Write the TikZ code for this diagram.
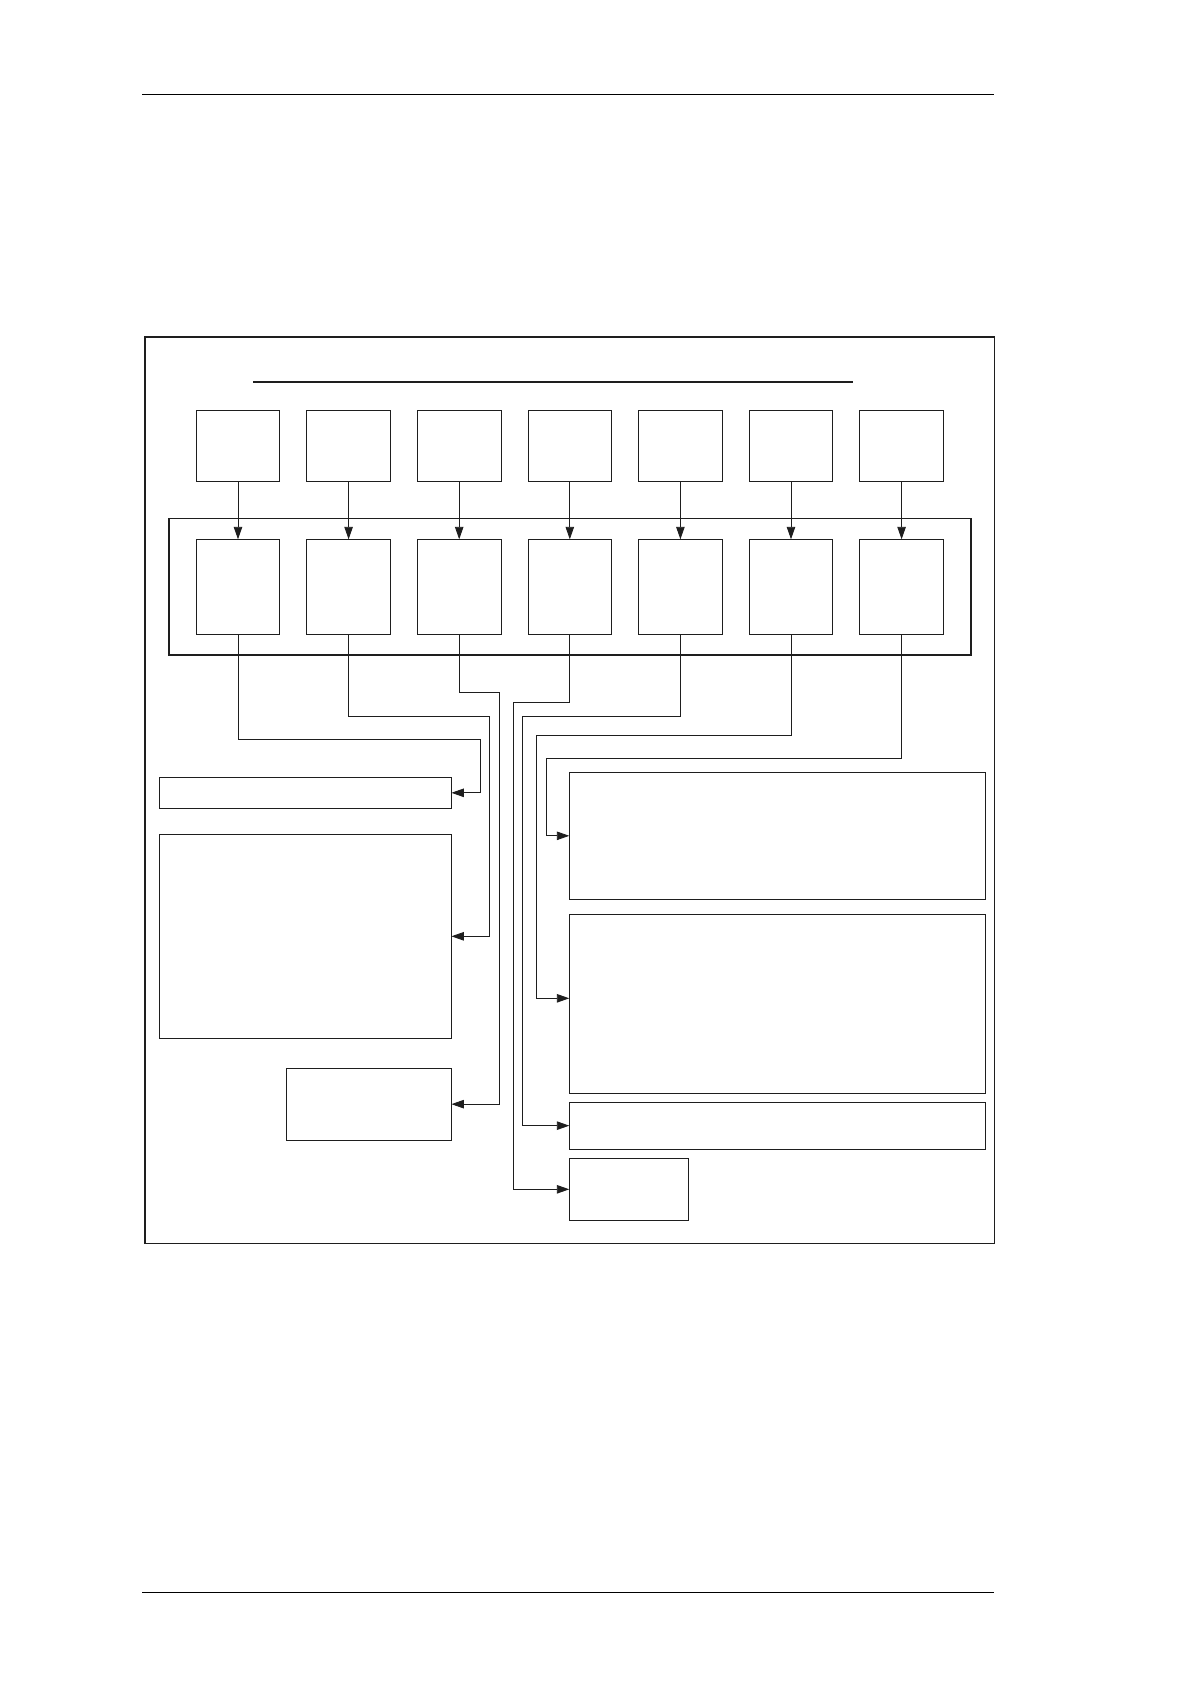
\documentclass[tikz,border=0pt]{standalone}
\usetikzlibrary{arrows.meta}
\definecolor{ink}{HTML}{1E1E1E}
\begin{document}
\begin{tikzpicture}[x=1pt,y=-1pt,
  box/.style={draw=ink, line width=0.9pt, inner sep=0pt, outer sep=0pt},
  framebox/.style={draw=ink, line width=1.6pt, inner sep=0pt, outer sep=0pt},
  conn/.style={draw=ink, line width=0.9pt},
  arr/.style={conn, -{Triangle[length=12.5pt,width=8.5pt]}},
  rulebar/.style={draw=black, line width=1.3pt}]
\useasboundingbox (0,0) rectangle (1190,1684);
% page rules
\draw[rulebar] (142,94.6) -- (994,94.6);
\draw[rulebar] (142,1592.3) -- (994,1592.3);
% outer frame
\node[framebox, minimum width=849.6pt, minimum height=906.6pt] (outer) at (569.5,790) {};
% title rule
\draw[draw=ink, line width=1.8pt] (253.3,381.7) -- (853.3,381.7);
% inner frame
\node[framebox, minimum width=802pt, minimum height=136.4pt] (inner) at (569.7,586.5) {};
% top and lower boxes
\foreach \i in {1,...,7}{
  \node[box, minimum width=83.5pt, minimum height=71pt] (b\i) at ({238+110.6*(\i-1)},445.8) {};
  \node[box, minimum width=83.5pt, minimum height=95pt] (l\i) at ({238+110.6*(\i-1)},586.8) {};
  \draw[arr] (b\i.south) -- (l\i.north);
}
% left boxes
\node[box, minimum width=292pt, minimum height=31pt] (A) at (305.4,792.8) {};
\node[box, minimum width=292pt, minimum height=204pt] (B) at (305.4,936.3) {};
\node[box, minimum width=165.3pt, minimum height=71.7pt] (C) at (368.75,1104.15) {};
% right boxes
\node[box, minimum width=416pt, minimum height=127pt] (R1) at (777.3,835.8) {};
\node[box, minimum width=416pt, minimum height=179pt] (R2) at (777.3,1003.5) {};
\node[box, minimum width=416pt, minimum height=46.7pt] (R3) at (777.3,1125.65) {};
\node[box, minimum width=119pt, minimum height=62pt] (R4) at (628.8,1189.3) {};
% bend points
\coordinate (k1) at (480.7,739);
\coordinate (k2) at (489.3,716.3);
\coordinate (k3) at (499.7,692);
\coordinate (k4) at (513.3,702);
\coordinate (k5) at (522.3,716.3);
\coordinate (k6) at (536.3,735.3);
\coordinate (k7) at (546.7,758);
% connectors
\draw[arr] (l1.south) |- (k1) |- (A.east);
\draw[arr] (l2.south) |- (k2) |- (B.east);
\draw[arr] (l3.south) |- (k3) |- (C.east);
\draw[arr] (l4.south) |- (k4) |- (R4.west);
\draw[arr] (l5.south) |- (k5) |- (R3.west);
\draw[arr] (l6.south) |- (k6) |- ([yshift=5.2pt]R2.west);
\draw[arr] (l7.south) |- (k7) |- (R1.west);
\end{tikzpicture}
\end{document}
